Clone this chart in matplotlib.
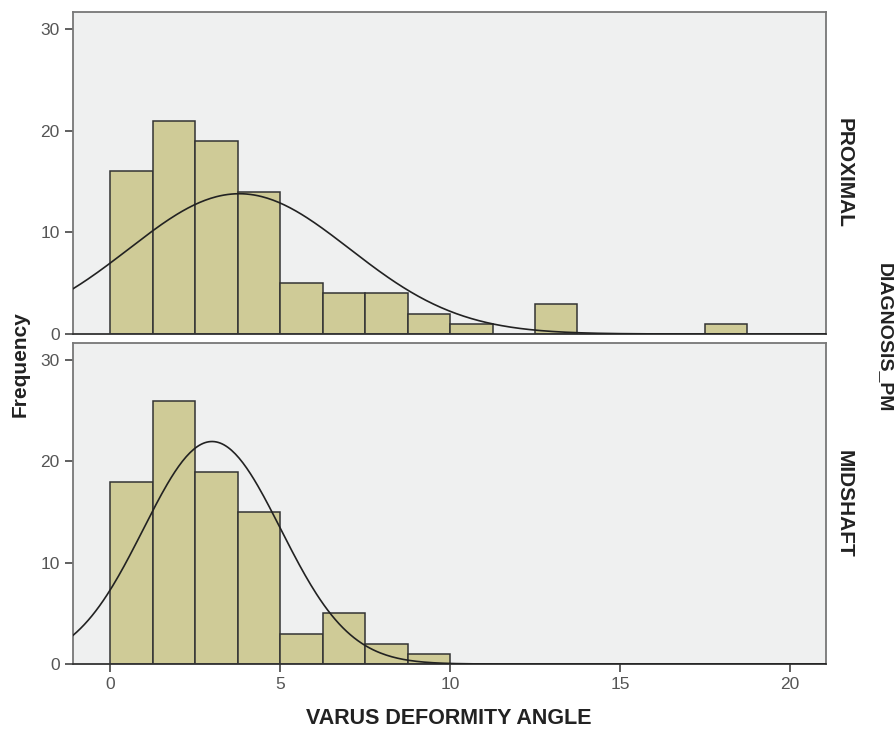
import numpy as np
import matplotlib.pyplot as plt

plt.rcParams["font.family"] = ["Liberation Sans", "DejaVu Sans"]

# bins of width 1.25 starting at 0
bin_width = 1.25
proximal_counts = [16, 21, 19, 14, 5, 4, 4, 2, 1, 0, 3, 0, 0, 0, 1]
midshaft_counts = [18, 26, 19, 15, 3, 5, 2, 1]

# fitted normal curve parameters (mean, sd)
proximal_fit = (3.8, 3.25)
midshaft_fit = (3.0, 2.02)

panel_labels = ["PROXIMAL", "MIDSHAFT"]
x_ticks = [0, 5, 10, 15, 20]
y_ticks = [0, 10, 20, 30]

bar_color = "#CFCB97"
bg_color = "#EFF0F0"

fig = plt.figure(figsize=(8.96, 7.29), dpi=100)
axes = [fig.add_axes([73 / 896, 1 - 334 / 729, 753 / 896, 322 / 729]),
        fig.add_axes([73 / 896, 1 - 664 / 729, 753 / 896, 321 / 729])]

xs = np.linspace(-1.09, 21.06, 400)
for ax, counts, (mu, sd), label in zip(axes, [proximal_counts, midshaft_counts],
                                       [proximal_fit, midshaft_fit], panel_labels):
    counts = np.array(counts)
    lefts = np.arange(len(counts)) * bin_width
    keep = counts > 0
    ax.bar(lefts[keep], counts[keep], width=bin_width, align="edge",
           color=bar_color, edgecolor="#333333", linewidth=1.1, zorder=2)
    n = counts.sum()
    curve = n * bin_width / (sd * np.sqrt(2 * np.pi)) * np.exp(-(xs - mu) ** 2 / (2 * sd ** 2))
    ax.plot(xs, curve, color="#222222", linewidth=1.2, zorder=3)

    ax.set_facecolor(bg_color)
    ax.set_xlim(-1.09, 21.06)
    ax.set_ylim(0, 31.7)
    ax.set_yticks(y_ticks)
    ax.set_xticks(x_ticks)
    for spine in ax.spines.values():
        spine.set_color("#777777")
        spine.set_linewidth(1.3)
    ax.spines["bottom"].set_color("#333333")
    ax.tick_params(direction="out", length=6, width=1.2, color="#444444",
                   labelcolor="#555555", labelsize=12.5)
    ax.text(1.012, 0.5, label, transform=ax.transAxes, rotation=-90,
            ha="left", va="center", fontsize=15, fontweight="bold", color="#222222")

axes[0].tick_params(axis="x", bottom=False, labelbottom=False)

fig.text(20 / 896, 0.5, "Frequency", rotation=90, ha="center", va="center",
         fontsize=15, fontweight="bold", color="#222222")
fig.text(876 / 896, 1 - 338 / 729, "DIAGNOSIS_PM", rotation=-90, ha="left", va="center",
         fontsize=14, fontweight="bold", color="#222222")
fig.text(449 / 896, 1 - 718 / 729, "VARUS DEFORMITY ANGLE", ha="center", va="center",
         fontsize=15.5, fontweight="bold", color="#222222")

fig.savefig("out.png", dpi=100, facecolor="white")
